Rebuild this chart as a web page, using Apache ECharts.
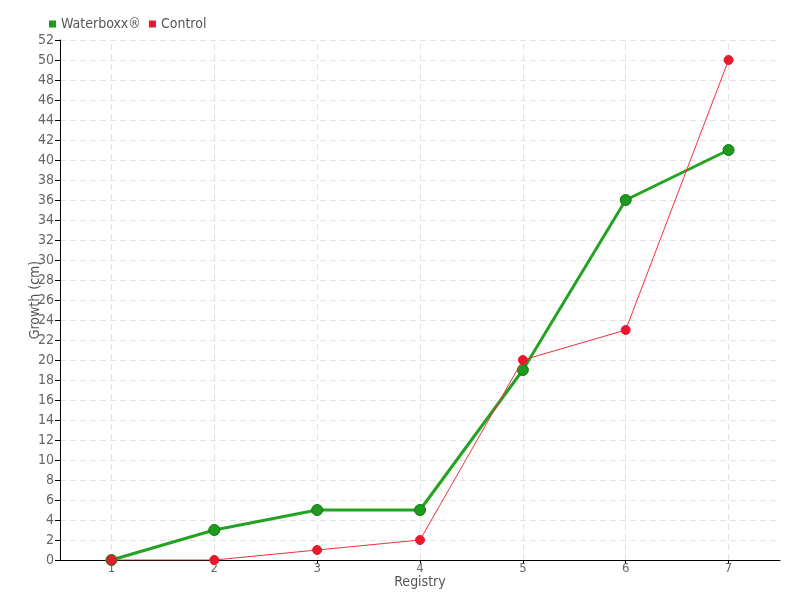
<!DOCTYPE html>
<html><head><meta charset="utf-8">
<script src="https://cdn.jsdelivr.net/npm/echarts@6/dist/echarts.min.js"></script>
<style>html,body{margin:0;padding:0;background:#fff}#c{width:800px;height:600px}</style>
</head><body><div id="c"></div>
<script>
const categories = ['1','2','3','4','5','6','7'];
const waterboxx = [0,3,5,5,19,36,41];
const control = [0,0,1,2,20,23,50];
const seriesNames = ['Waterboxx®','Control'];
const yMin = 0, yMax = 52, yStep = 2;

const font = '"DejaVu Sans Condensed", "Liberation Sans Narrow", sans-serif';
const chart = echarts.init(document.getElementById('c'));
chart.setOption({
  animation:false,
  textStyle:{fontFamily:font},
  legend:{
    left:44, top:12, itemWidth:7, itemHeight:7, itemGap:8,
    icon:'rect',
    itemStyle:{borderWidth:0},
    textStyle:{color:'#555', fontSize:14, fontFamily:font},
    data:seriesNames
  },
  grid:{left:60, right:20, top:40, bottom:40},
  xAxis:{
    type:'category', data:categories, boundaryGap:true,
    name:'Registry', nameLocation:'middle', nameGap:15, nameMoveOverlap:false,
    nameTextStyle:{color:'#555', fontSize:14, fontFamily:font},
    axisLine:{lineStyle:{color:'#000', width:1}},
    axisTick:{show:true, alignWithLabel:true, length:4, lineStyle:{color:'#000'}},
    axisLabel:{color:'#666', fontSize:13, margin:2, fontFamily:font},
    splitLine:{show:false}
  },
  yAxis:{
    type:'value', min:yMin, max:yMax, interval:yStep,
    name:'Growth (cm)', nameLocation:'middle', nameGap:18, nameMoveOverlap:false,
    nameTextStyle:{color:'#555', fontSize:14, fontFamily:font},
    axisLine:{show:true, lineStyle:{color:'#000', width:1}},
    axisTick:{show:true, length:5, lineStyle:{color:'#000'}},
    axisLabel:{color:'#666', fontSize:14, margin:6, fontFamily:font},
    splitLine:{show:true, lineStyle:{color:'#e2e2e2', type:[6,4], width:1}}
  },
  series:[
    {
      name:seriesNames[0], type:'line', data:waterboxx,
      symbol:'circle', symbolSize:11,
      itemStyle:{color:'#1e9a1e', borderColor:'#157515', borderWidth:1},
      lineStyle:{color:'#22a322', width:3},
      z:2,
      markLine:{
        silent:true, symbol:['none','none'], label:{show:false},
        lineStyle:{color:'#e2e2e2', type:[6,4], width:1},
        data:categories.map(c=>({xAxis:c})),
        z:1
      }
    },
    {
      name:seriesNames[1], type:'line', data:control,
      symbol:'circle', symbolSize:9,
      itemStyle:{color:'#e8192c', borderColor:'#e8192c'},
      lineStyle:{color:'#f0303f', width:1},
      z:3
    }
  ]
});
</script></body></html>
